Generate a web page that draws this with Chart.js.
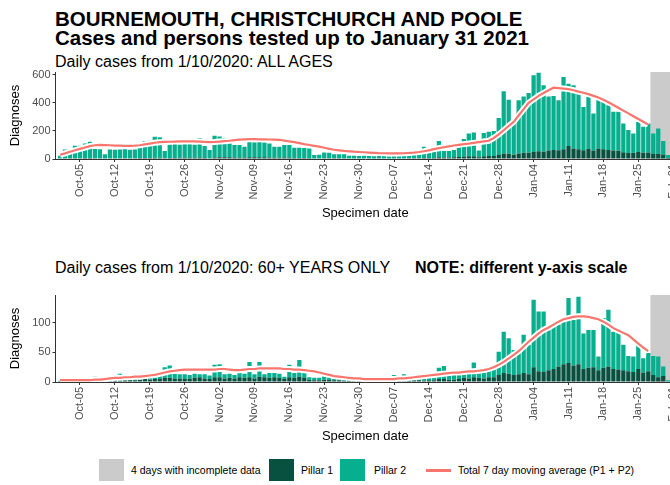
<!DOCTYPE html>
<html>
<head>
<meta charset="utf-8">
<script src="https://cdn.jsdelivr.net/npm/chart.js@4.4.1/dist/chart.umd.min.js"></script>
<style>
  html, body { margin: 0; padding: 0; width: 670px; height: 485px; overflow: hidden; background: #fff; }
  body { position: relative; font-family: "Liberation Sans", Arial, sans-serif; color: #000; }
  .txt { position: absolute; white-space: nowrap; line-height: 1; }
  .title { font-weight: bold; font-size: 20.5px; left: 55px; }
  .sub { font-size: 16px; left: 55px; }
  .key { position: absolute; top: 459px; width: 25px; height: 22px; }
  .lab { position: absolute; top: 465px; font-size: 10.5px; line-height: 1; white-space: nowrap; }
  canvas { position: absolute; left: 0; }
</style>
</head>
<body>
<div class="txt title" style="top:9px">BOURNEMOUTH, CHRISTCHURCH AND POOLE</div>
<div class="txt title" style="top:28px">Cases and persons tested up to January 31 2021</div>
<div class="txt sub" style="top:54px">Daily cases from 1/10/2020: ALL AGES</div>
<canvas id="allAges" width="700" height="163" style="top:62px"></canvas>
<div class="txt sub" style="top:260px">Daily cases from 1/10/2020: 60+ YEARS ONLY</div>
<div class="txt sub" style="top:260px;left:415px;font-weight:bold">NOTE: different y-axis scale</div>
<canvas id="over60" width="700" height="163" style="top:285px"></canvas>

<div class="key" style="left:99px;background:#cbcbcb"></div>
<div class="lab" style="left:131px">4 days with incomplete data</div>
<div class="key" style="left:269px;background:#08503f"></div>
<div class="lab" style="left:301px">Pillar 1</div>
<div class="key" style="left:340px;background:#08af8f"></div>
<div class="lab" style="left:374px">Pillar 2</div>
<div class="key" style="left:426px;top:469px;height:2.5px;background:#f8766d"></div>
<div class="lab" style="left:458px">Total 7 day moving average (P1 + P2)</div>

<script>
// x categories: one label per specimen day, 1 Oct 2020 .. 1 Feb 2021
const months = ['Jan','Feb','Mar','Apr','May','Jun','Jul','Aug','Sep','Oct','Nov','Dec'];
const dayLabels = [];
for (let d = new Date(2020, 9, 1); d <= new Date(2021, 1, 1); d.setDate(d.getDate() + 1)) {
    dayLabels.push(months[d.getMonth()] + '-' + String(d.getDate()).padStart(2, '0'));
}
const tickLabels = ['Oct-05','Oct-12','Oct-19','Oct-26','Nov-02','Nov-09','Nov-16','Nov-23','Nov-30',
    'Dec-07','Dec-14','Dec-21','Dec-28','Jan-04','Jan-11','Jan-18','Jan-25','Feb-01'];
const incompleteDays = ['Jan-28','Jan-29','Jan-30','Jan-31'];

// all ages
const allPillar1 = [
    4,5,5,6,6,7,7,5,6,3, 5,5,6,6,5,6,7,8,8,9, 9,5,8,8,9,9,10,9,10,7,
    6,10,12,12,12,10,10,9,12,12, 13,12,11,9,9,10,10,8,8,8, 8,4,4,6,6,5,5,5,4,4,
    4,4,3,3,3,4,3,3,4,4, 5,5,6,8,7,8,12,10,10,12, 15,18,20,20,12,20,22,22,28,40,
    38,30,40,45,45,50,55,52,60,64, 62,70,92,75,70,62,72,60,75,70, 64,60,58,48,42,45,50,44,46,38,
    36,30,8];
const allPillar2 = [
    20,63,65,89,89,103,116,67,64,30, 63,61,62,64,61,62,73,120,122,149, 146,52,98,100,95,97,95,94,140,85,
    58,155,148,138,138,90,90,78,111,108, 112,106,100,78,78,89,89,72,72,70, 67,24,26,41,39,28,28,28,20,20,
    18,20,18,17,18,18,17,18,18,24, 23,25,32,79,38,42,116,47,47,52, 84,124,162,169,48,165,173,177,265,442,
    385,230,378,400,425,546,560,473,385,385, 356,514,445,450,419,309,370,264,365,360, 319,276,278,205,164,137,215,185,207,144,
    181,98,20];
const allMovingAvg = [
    30,40,52,62,72,82,92,98,100,99, 98,96,95,94,94,95,98,104,110,116, 120,122,123,124,125,126,126,125,124,122,
    120,121,124,127,130,134,138,140,141,141, 140,140,139,138,137,131,125,120,113,106, 100,94,88,80,72,66,62,58,55,52,
    50,48,46,44,42,41,40,40,40,41, 43,46,50,55,62,70,77,84,90,96, 101,106,110,115,120,125,130,150,175,205,
    235,265,310,355,400,425,450,470,490,508, 505,502,498,490,480,472,462,450,438,422, 405,385,365,345,325,305,285,265,245];

// 60+ years only
const over60Pillar1 = [
    1,1,1,2,2,1,2,2,2,3, 2,3,3,3,4,3,4,5,4,5, 5,7,7,6,6,5,6,7,8,6,
    5,8,8,6,7,6,8,7,8,6, 9,8,7,8,7,5,8,7,9,7, 4,3,3,4,4,3,3,2,2,2,
    2,1,1,2,1,1,2,1,2,2, 2,3,3,2,3,3,5,5,4,4, 5,7,6,8,7,6,8,8,12,15,
    14,12,13,15,13,25,18,17,20,22, 26,30,32,28,30,22,24,25,20,24, 26,22,21,20,18,17,22,16,18,12,
    8,10,1];
const over60Pillar2 = [
    1,2,1,1,2,2,2,7,3,3, 3,4,11,3,4,4,5,5,11,11, 7,18,21,8,7,8,6,7,5,7,
    6,21,22,7,7,6,7,7,26,7, 25,5,8,7,7,4,21,8,28,8, 4,4,4,8,8,2,3,3,2,3,
    2,2,2,2,2,2,1,11,1,11, 4,4,3,5,5,6,19,22,7,8, 8,15,12,25,13,13,19,19,39,70,
    60,42,37,65,50,114,101,102,68,72, 71,72,110,77,114,60,64,63,23,84, 96,63,64,43,26,26,44,24,31,32,
    35,16,2];
const over60MovingAvg = [
    3,3,3,3,3,3,3,4,4,5, 6,7,7,8,8,9,9,10,11,12, 14,16,18,19,20,21,21,21,21,21,
    21,21,22,22,21,20,20,21,22,22, 23,23,23,23,23,22,22,21,21,20, 19,18,16,14,12,10,9,8,7,6,
    6,5,5,5,5,5,5,5,6,6, 7,8,9,10,11,12,13,14,15,16, 16,17,18,18,19,20,22,25,29,34,
    40,46,52,60,68,75,82,88,92,97, 102,106,108,110,111,111,110,108,106,102, 97,91,87,83,79,72,65,58,52];

const allYTicks = [0, 100, 200, 300, 400, 500, 600];
const over60YTicks = [0, 50, 100];

const colours = {
    pillar1: '#08503f',
    pillar2: '#08af8f',
    incomplete: '#cbcbcb',
    average: '#f8766d'
};

Chart.defaults.font.family = '"Liberation Sans", Arial, sans-serif';

function drawPanel(id, pillar1, pillar2, movingAvg, yMax, yTicks) {
    const ctx = document.getElementById(id).getContext('2d');
    const greyBand = dayLabels.map(l => incompleteDays.includes(l) ? yMax : null);
    return new Chart(ctx, {
        type: 'bar',
        data: {
            labels: dayLabels.map((l, i) => i),
            datasets: [
                {
                    type: 'line', label: 'Total 7 day moving average (P1 + P2)', data: movingAvg,
                    borderColor: colours.average, borderWidth: 2.2, pointRadius: 0, tension: 0,
                    stack: 'avg', order: 0
                },
                {
                    // white halo under the average line
                    type: 'line', label: 'halo', data: movingAvg,
                    borderColor: '#ffffff', borderWidth: 6, pointRadius: 0, tension: 0,
                    stack: 'halo', order: 1
                },
                {
                    label: 'Pillar 1', data: pillar1, backgroundColor: colours.pillar1,
                    stack: 'cases', order: 2, barPercentage: 0.86, categoryPercentage: 1
                },
                {
                    label: 'Pillar 2', data: pillar2, backgroundColor: colours.pillar2,
                    stack: 'cases', order: 2, barPercentage: 0.86, categoryPercentage: 1
                },
                {
                    label: '4 days with incomplete data', data: greyBand, backgroundColor: colours.incomplete,
                    stack: 'grey', grouped: false, order: 3, barPercentage: 1, categoryPercentage: 1
                }
            ]
        },
        options: {
            responsive: false,
            animation: false,
            layout: { padding: { top: 10, right: 25, left: 0, bottom: 0 } },
            plugins: { legend: { display: false }, tooltip: { enabled: false } },
            scales: {
                x: {
                    type: 'linear', min: -0.91, max: 123.36, offset: false,
                    afterBuildTicks: axis => { axis.ticks = tickLabels.map(l => ({ value: dayLabels.indexOf(l) })); },
                    afterFit: axis => { axis.height = 66; },
                    ticks: {
                        autoSkip: false, maxRotation: 90, minRotation: 90, padding: 2,
                        color: '#4d4d4d', font: { size: 11 },
                        callback: v => dayLabels[v]
                    },
                    grid: { drawOnChartArea: false, offset: false, tickLength: 3, color: '#333' },
                    border: { display: true, color: '#333', width: 1 },
                    title: { display: true, text: 'Specimen date', color: '#000', font: { size: 13 }, padding: { top: 4, bottom: 4 } }
                },
                y: {
                    stacked: true, min: 0, max: yMax,
                    afterBuildTicks: axis => { axis.ticks = yTicks.map(v => ({ value: v })); },
                    afterFit: axis => { axis.width = 55.5; },
                    ticks: { color: '#4d4d4d', font: { size: 11 }, padding: 2 },
                    grid: { drawOnChartArea: false, tickLength: 3, color: '#333' },
                    border: { display: true, color: '#333', width: 1 },
                    title: { display: true, text: 'Diagnoses', color: '#000', font: { size: 13 }, padding: { top: 8, bottom: 0 } }
                }
            }
        }
    });
}

drawPanel('allAges', allPillar1, allPillar2, allMovingAvg, 620, allYTicks);
drawPanel('over60', over60Pillar1, over60Pillar2, over60MovingAvg, 147, over60YTicks);
</script>
</body>
</html>
